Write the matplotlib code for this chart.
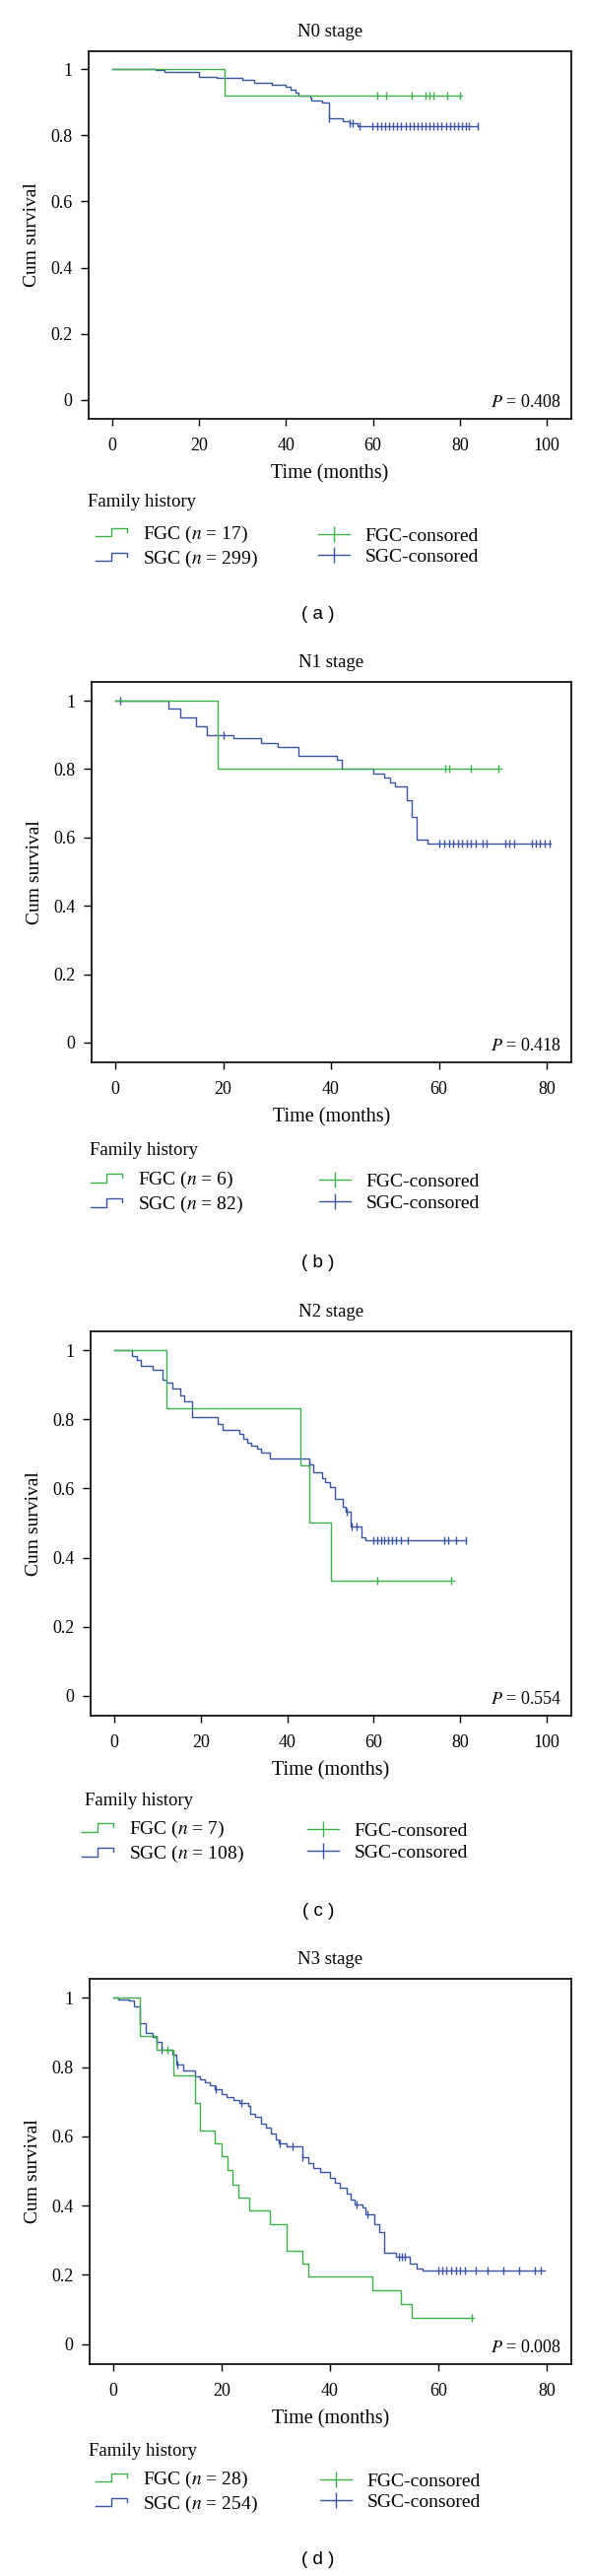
"""Kaplan-Meier curves by N stage: FGC vs SGC family history."""

import numpy as np
import matplotlib
matplotlib.use("Agg")
import matplotlib.pyplot as plt
from matplotlib.legend_handler import HandlerBase
from matplotlib.lines import Line2D

plt.rcParams["font.family"] = ["Liberation Serif", "DejaVu Serif"]
plt.rcParams["mathtext.fontset"] = "stix"

GREEN = "#3cb14a"
BLUE = "#3853a4"

# ---- data (months, cumulative survival) ----
stages = ["N0 stage", "N1 stage", "N2 stage", "N3 stage"]
p_values = ["0.408", "0.418", "0.554", "0.008"]
n_fgc = [17, 6, 7, 28]
n_sgc = [299, 82, 108, 254]
x_max = [100, 80, 100, 80]
panel_tags = ["a", "b", "c", "d"]

# N0
a_fgc_t = [0, 25.9, 80.5]
a_fgc_s = [1.0, 0.922, 0.922]
a_fgc_cens = [60.9, 63.1, 69.0, 72.1, 73.1, 74.0, 77.1, 80.1]
a_sgc_t = [0, 10.0, 11.9, 20.0, 23.9, 29.9, 32.6, 36.8, 39.8, 41.0, 42.1, 42.9,
           45.5, 45.9, 48.2, 49.9, 53.1, 54.6, 56.5, 84.2]
a_sgc_s = [1.0, 0.997, 0.992, 0.978, 0.973, 0.969, 0.960, 0.955, 0.948, 0.940,
           0.930, 0.922, 0.915, 0.905, 0.900, 0.851, 0.843, 0.836, 0.829, 0.829]
a_sgc_cens = [49.9, 54.6, 55.4, 56.9, 59.9, 60.9, 61.8, 62.8, 63.7, 64.7, 65.6,
              66.5, 67.5, 68.4, 69.4, 70.4, 71.3, 72.2, 73.1, 74.0, 74.9, 75.8,
              76.8, 77.7, 78.6, 79.5, 80.5, 81.4, 82.2, 84.2]

# N1
b_fgc_t = [0, 19.0, 71.6]
b_fgc_s = [1.0, 0.8, 0.8]
b_fgc_cens = [61.1, 61.9, 66.0, 71.1]
b_sgc_t = [0, 9.9, 12.0, 15.0, 17.0, 21.9, 27.0, 30.1, 34.0, 41.0, 42.0, 47.8,
           49.9, 50.9, 51.9, 54.0, 54.9, 55.9, 57.9, 80.7]
b_sgc_s = [1.0, 0.976, 0.951, 0.926, 0.900, 0.891, 0.875, 0.864, 0.838, 0.827,
           0.800, 0.787, 0.775, 0.762, 0.749, 0.710, 0.660, 0.595, 0.583, 0.583]
b_sgc_cens = [0.9, 20.0, 60.0, 61.0, 61.9, 62.7, 63.5, 64.3, 65.2, 66.0, 66.8,
              68.1, 68.9, 72.3, 73.1, 74.0, 77.2, 78.0, 78.8, 79.7, 80.6]

# N2
c_fgc_t = [0, 12.0, 43.1, 45.0, 50.0, 78.6]
c_fgc_s = [1.0, 0.833, 0.667, 0.500, 0.333, 0.333]
c_fgc_cens = [60.9, 78.0]
c_sgc_t = [0, 4.1, 5.1, 6.1, 8.9, 11.1, 12.0, 13.3, 15.2, 16.1, 18.0, 24.0, 25.0,
           28.9, 29.8, 30.7, 31.7, 32.9, 33.9, 36.0, 45.0, 46.1, 48.0, 48.8,
           49.9, 51.0, 52.9, 53.5, 54.7, 57.1, 58.0, 81.4]
c_sgc_s = [1.0, 0.983, 0.971, 0.954, 0.945, 0.916, 0.908, 0.889, 0.870, 0.852,
           0.808, 0.786, 0.770, 0.759, 0.743, 0.733, 0.724, 0.714, 0.703, 0.686,
           0.669, 0.648, 0.629, 0.619, 0.605, 0.571, 0.548, 0.533, 0.490, 0.459,
           0.449, 0.449]
c_sgc_cens = [45.0, 53.7, 54.8, 56.0, 59.8, 60.8, 61.7, 62.4, 63.3, 64.3, 65.2,
              66.2, 67.9, 76.3, 77.3, 79.1, 81.4]

# N3
d_fgc_t = [0, 4.9, 8.0, 11.0, 15.0, 16.0, 18.7, 19.9, 21.0, 21.9, 23.0, 25.0,
           28.9, 31.9, 34.9, 36.0, 47.9, 53.0, 55.1, 66.6]
d_fgc_s = [1.0, 0.889, 0.851, 0.775, 0.696, 0.618, 0.580, 0.542, 0.504, 0.461,
           0.423, 0.385, 0.347, 0.269, 0.233, 0.195, 0.155, 0.116, 0.077, 0.077]
d_fgc_cens = [9.9, 66.1]
d_sgc_t = [0, 0.9, 2.9, 3.8, 4.8, 6.0, 7.2, 8.0, 8.8, 10.8, 11.7, 12.9, 15.0,
           16.0, 16.9, 17.8, 18.7, 19.9, 20.8, 22.1, 23.3, 24.8, 25.2, 26.2,
           27.2, 28.1, 29.0, 29.9, 30.5, 32.0, 34.9, 36.0, 36.9, 38.1, 40.0,
           40.9, 41.8, 43.0, 43.9, 44.5, 46.0, 46.5, 48.2, 49.1, 50.0, 52.1,
           54.8, 56.0, 57.1, 79.7]
d_sgc_s = [1.0, 0.995, 0.993, 0.976, 0.927, 0.898, 0.888, 0.874, 0.851, 0.836,
           0.808, 0.789, 0.773, 0.764, 0.757, 0.748, 0.736, 0.722, 0.713, 0.705,
           0.696, 0.689, 0.666, 0.656, 0.637, 0.624, 0.608, 0.592, 0.580, 0.570,
           0.539, 0.523, 0.508, 0.497, 0.480, 0.466, 0.451, 0.434, 0.418, 0.402,
           0.396, 0.375, 0.345, 0.323, 0.263, 0.251, 0.233, 0.218, 0.211, 0.211]
d_sgc_cens = [8.0, 8.9, 11.8, 18.8, 23.6, 30.8, 33.0, 34.9, 44.9, 46.9, 52.7,
              53.3, 53.9, 60.0, 60.8, 61.5, 62.3, 63.2, 64.0, 64.9, 67.0, 69.1,
              72.0, 75.0, 77.9, 78.9]

curves = [
    (a_fgc_t, a_fgc_s, a_fgc_cens, a_sgc_t, a_sgc_s, a_sgc_cens),
    (b_fgc_t, b_fgc_s, b_fgc_cens, b_sgc_t, b_sgc_s, b_sgc_cens),
    (c_fgc_t, c_fgc_s, c_fgc_cens, c_sgc_t, c_sgc_s, c_sgc_cens),
    (d_fgc_t, d_fgc_s, d_fgc_cens, d_sgc_t, d_sgc_s, d_sgc_cens),
]

# ---- layout in pixels (left, top, right, bottom) ----
W, H = 600, 2614
axes_box = [(90, 52, 580, 425), (93, 692, 580, 1078),
            (92, 1351, 580, 1741), (91, 2008, 580, 2399)]
legend_title_xy = [(89, 509), (91, 1167), (86, 1827), (90, 2487)]
legend_rows_y = [(542, 567), (1197, 1223), (1856, 1882), (2515, 2542)]
legend_col_x = [(97, 323), (92, 324), (83, 312), (97, 325)]
tag_y = [624, 1282, 1940, 2598]


def surv_at(times, surv, pts):
    idx = np.searchsorted(times, pts, side="right") - 1
    return np.asarray(surv)[idx]


class StepHandler(HandlerBase):
    """Little step-shaped legend key."""

    def create_artists(self, legend, orig_handle, xdescent, ydescent,
                       width, height, fontsize, trans):
        xs = -xdescent + width * np.array([0.0, 0.5, 0.5, 1.0, 1.0])
        ys = -ydescent + height * np.array([0.1, 0.1, 0.85, 0.85, 0.5])
        ln = Line2D(xs, ys, color=orig_handle.get_color(),
                    lw=orig_handle.get_linewidth())
        ln.set_transform(trans)
        return [ln]


fig = plt.figure(figsize=(W / 100, H / 100), dpi=100)

for i in range(4):
    l, t, r, b = axes_box[i]
    ax = fig.add_axes([l / W, 1 - b / H, (r - l) / W, (b - t) / H])
    f_t, f_s, f_c, s_t, s_s, s_c = curves[i]

    ax.step(s_t, s_s, where="post", color=BLUE, lw=1.0)
    ax.plot(s_c, surv_at(s_t, s_s, s_c), ls="none", marker="|", ms=5.5,
            mew=1.0, color=BLUE)
    ax.step(f_t, f_s, where="post", color=GREEN, lw=1.0)
    ax.plot(f_c, surv_at(f_t, f_s, f_c), ls="none", marker="|", ms=5.5,
            mew=1.0, color=GREEN)

    xm = x_max[i]
    ax.set_xlim(-0.055 * xm, 1.057 * xm)
    ax.set_ylim(-0.058, 1.055)
    ax.set_xticks(np.arange(0, xm + 1, 20))
    ax.set_yticks([0, 0.2, 0.4, 0.6, 0.8, 1.0])
    ax.set_yticklabels(["0", "0.2", "0.4", "0.6", "0.8", "1"])
    ax.tick_params(axis="x", length=5, width=1.0, pad=9, labelsize=13)
    ax.tick_params(axis="y", length=6, width=1.0, pad=6, labelsize=13)
    for sp in ax.spines.values():
        sp.set_linewidth(1.2)

    ax.set_title(stages[i], fontsize=13.5, pad=11)
    ax.set_xlabel("Time (months)", fontsize=14.5, labelpad=7)
    ax.set_ylabel("Cum survival", fontsize=14, labelpad=7)
    ax.annotate(f"$P$ = {p_values[i]}", xy=(1, 0), xycoords="axes fraction",
                xytext=(-10, 12), textcoords="offset pixels",
                ha="right", va="baseline", fontsize=13)

    # legend
    tx, ty = legend_title_xy[i]
    fig.text(tx / W, 1 - ty / H, "Family history", fontsize=13.5,
             ha="left", va="center")
    y_mid = 1 - (sum(legend_rows_y[i]) / 2) / H
    x1, x2 = legend_col_x[i]
    step_keys = [Line2D([], [], color=GREEN, lw=1.0),
                 Line2D([], [], color=BLUE, lw=1.0)]
    fig.legend(step_keys,
               [f"FGC ($n$ = {n_fgc[i]})", f"SGC ($n$ = {n_sgc[i]})"],
               handler_map={k: StepHandler() for k in step_keys},
               loc="center left", bbox_to_anchor=(x1 / W, y_mid),
               frameon=False, borderpad=0, borderaxespad=0, fontsize=14,
               handlelength=1.65, handleheight=0.5, handletextpad=0.8,
               labelspacing=0.2)
    cens_keys = [Line2D([], [], color=GREEN, lw=1.0, marker="|", ms=12, mew=1.0),
                 Line2D([], [], color=BLUE, lw=1.0, marker="|", ms=12, mew=1.0)]
    fig.legend(cens_keys, ["FGC-consored", "SGC-consored"],
               loc="center left", bbox_to_anchor=(x2 / W, y_mid),
               frameon=False, borderpad=0, borderaxespad=0, fontsize=14,
               handlelength=1.65, handletextpad=0.8, labelspacing=0.2,
               numpoints=1)

    fig.text(323 / W, 1 - tag_y[i] / H, f"( {panel_tags[i]} )",
             family="Liberation Sans", fontsize=13.5, ha="center", va="center")

fig.savefig("out.png", dpi=100)
plt.close(fig)
